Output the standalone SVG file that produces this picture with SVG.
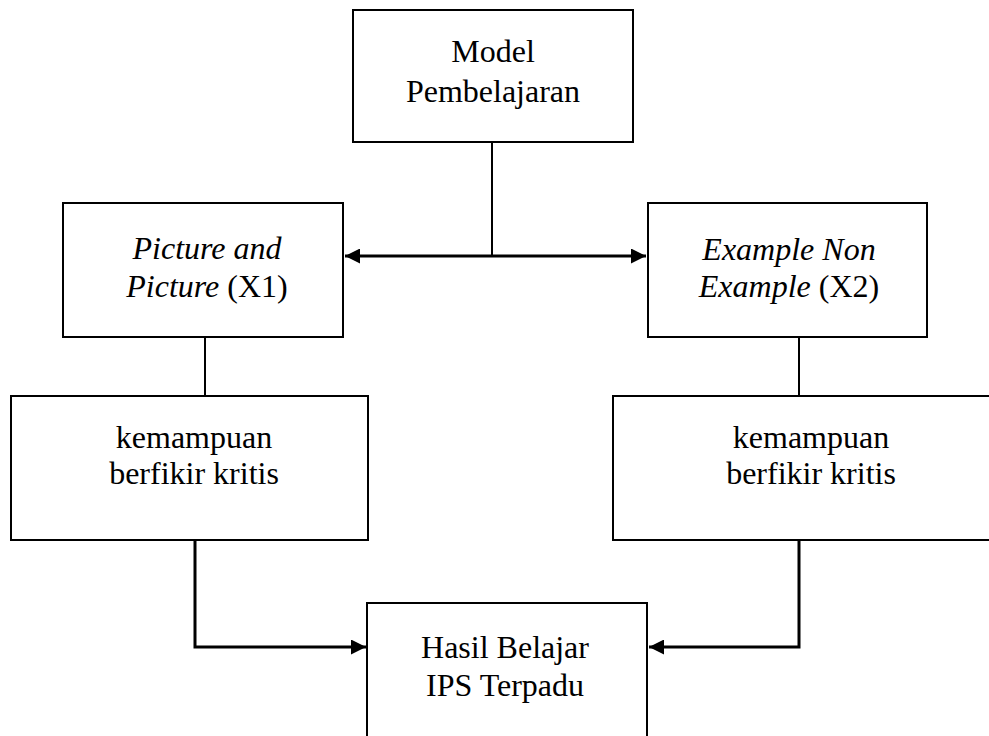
<svg xmlns="http://www.w3.org/2000/svg" width="989" height="736" viewBox="0 0 989 736">
<defs>
<style>
.box{fill:#fff;stroke:#000;stroke-width:2}
.ln{fill:none;stroke:#000;stroke-width:2}
.ar{fill:none;stroke:#000;stroke-width:3}
.t{font-family:"Liberation Serif","Times New Roman",serif;font-size:32px;fill:#000;text-anchor:middle}
.i{font-style:italic}
</style>
<marker id="ah" viewBox="0 0 10 10" refX="10" refY="5" markerWidth="5" markerHeight="5" markerUnits="strokeWidth" orient="auto-start-reverse">
<path d="M0,0 L10,5 L0,10 Z" fill="#000"/>
</marker>
</defs>
<g id="connectors">
<line class="ln" x1="492" y1="142" x2="492" y2="256"/>
<line class="ar" x1="345" y1="256" x2="646" y2="256" marker-start="url(#ah)" marker-end="url(#ah)"/>
<line class="ln" x1="205" y1="337" x2="205" y2="396"/>
<line class="ln" x1="799" y1="337" x2="799" y2="396"/>
<polyline class="ar" points="195,540 195,647 366,647" marker-end="url(#ah)"/>
<polyline class="ar" points="799,540 799,647 649,647" marker-end="url(#ah)"/>
</g>
<g id="model">
<rect class="box" x="353" y="10" width="280" height="132"/>
<text class="t" x="493" y="62">Model</text>
<text class="t" x="493" y="102">Pembelajaran</text>
</g>
<g id="picture">
<rect class="box" x="63" y="203" width="280" height="134"/>
<text class="t" x="207" y="259"><tspan class="i">Picture and</tspan></text>
<text class="t" x="207" y="297"><tspan class="i">Picture</tspan> (X1)</text>
</g>
<g id="example">
<rect class="box" x="648" y="203" width="279" height="134"/>
<text class="t" x="789" y="260"><tspan class="i">Example Non</tspan></text>
<text class="t" x="789" y="297"><tspan class="i">Example</tspan> (X2)</text>
</g>
<g id="kritis-left">
<rect class="box" x="11" y="396" width="357" height="144"/>
<text class="t" x="194" y="448">kemampuan</text>
<text class="t" x="194" y="484">berfikir kritis</text>
</g>
<g id="kritis-right">
<rect class="box" x="613" y="396" width="396" height="144"/>
<text class="t" x="811" y="448">kemampuan</text>
<text class="t" x="811" y="484">berfikir kritis</text>
</g>
<g id="hasil">
<rect class="box" x="367" y="603" width="280" height="150"/>
<text class="t" x="505" y="658">Hasil Belajar</text>
<text class="t" x="505" y="696">IPS Terpadu</text>
</g>
</svg>
